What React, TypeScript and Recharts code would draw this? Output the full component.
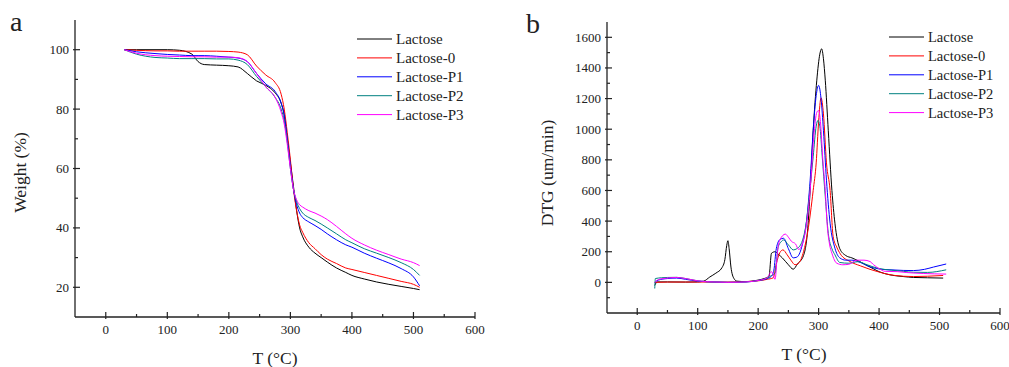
import { LineChart, Line, XAxis, YAxis, Legend } from "recharts";

const SERIF = '"Liberation Serif", "Times New Roman", serif';
const AXIS = "#222";

const seriesNames = ["Lactose", "Lactose-0", "Lactose-P1", "Lactose-P2", "Lactose-P3"];
const seriesColors = ["#000000", "#ff0000", "#0000ff", "#008080", "#ff00ff"];

// ---- a: TGA weight (%) vs T ----
const tgaTemps = [30, 50, 80, 100, 120, 140, 150, 160, 180, 200, 215, 230, 245, 260, 275, 285, 290, 295, 300, 305, 310, 315, 320, 330, 340, 350, 360, 375, 390, 400, 420, 440, 460, 480, 500, 510];
const tgaLactose = [100, 100, 100, 100, 99.8, 98.5, 96, 95, 94.8, 94.6, 94.2, 92, 89.5, 88, 85.5, 82, 78, 70, 62, 54, 46, 40, 37, 33.5, 31.5, 30, 28.5, 26.5, 25, 24, 22.8, 21.8, 21, 20.3, 19.6, 19.2];
const tgaLactose0 = [100, 99.8, 99.6, 99.6, 99.5, 99.5, 99.5, 99.5, 99.5, 99.4, 99.2, 98.3, 94.5, 91.5, 89, 85, 80, 72, 63, 53, 46, 41, 38.5, 35, 33, 31, 29.5, 28, 26.5, 26, 25, 24, 23, 22, 21, 20];
const tgaP1 = [100, 99.3, 98.7, 98.4, 98.2, 98, 98, 98, 97.8, 97.5, 97.2, 96, 92, 88.5, 86, 82, 78, 70, 61, 53, 48, 45, 43.5, 42, 40.8, 39.5, 38, 36, 34.3, 33.5, 31.5, 29.8, 28.2, 26.3, 23.5, 20.5];
const tgaP2 = [100, 98.5, 97.4, 97.2, 97, 97, 97, 97, 96.9, 96.9, 96.5, 95, 91, 87.5, 84, 80, 76, 69, 60, 53, 49, 46.5, 45, 43.5, 42.5, 41.3, 40, 38, 36, 35, 33, 31.5, 30, 28.3, 26, 24];
const tgaP3 = [100, 98.8, 98, 97.8, 97.7, 97.6, 97.6, 97.6, 97.5, 97.5, 97.3, 96, 92, 87.5, 84, 79, 75, 68, 60, 53, 49.5, 47.8, 47, 45.8, 45, 44, 42.8, 40.5, 38, 36.5, 34.3, 32.5, 31, 29.5, 28.3, 27.3];

// ---- b: DTG (um/min) vs T ----
const dtgLactoseT = [29, 33, 50, 80, 100, 110, 120, 130, 140, 145, 148, 150, 152, 155, 160, 165, 180, 200, 210, 218, 222, 228, 233, 240, 250, 258, 265, 275, 282, 286, 291, 297, 302, 305, 308, 311, 316, 322, 327, 335, 345, 355, 368, 380, 390, 400, 418, 440, 457, 480, 506];
const dtgLactose = [-20, 3, 3, 2, 3, 8, 35, 60, 95, 150, 240, 272, 220, 100, 25, 8, 5, 15, 25, 40, 190, 200, 185, 160, 115, 86, 120, 175, 350, 600, 990, 1320, 1490, 1525, 1460, 1320, 990, 600, 386, 220, 175, 160, 136, 110, 90, 70, 49, 38, 32, 30, 28];
const dtgLactose0T = [29, 50, 80, 100, 150, 200, 215, 225, 230, 236, 241, 248, 255, 261, 268, 275, 282, 291, 296, 300, 304, 308, 313, 319, 324, 330, 336, 352, 369, 385, 402, 424, 457, 480, 506];
const dtgLactose0 = [0, 2, 2, 2, 2, 10, 20, 30, 120, 195, 212, 180, 140, 115, 130, 200, 330, 600, 780, 1050, 1205, 1100, 780, 600, 300, 230, 185, 136, 108, 85, 65, 46, 38, 40, 45];
const dtgP1T = [29, 35, 50, 65, 80, 100, 130, 150, 180, 200, 215, 222, 226, 230, 236, 242, 250, 258, 264, 272, 280, 286, 291, 296, 300, 304, 308, 313, 319, 327, 335, 345, 355, 369, 380, 391, 405, 418, 440, 457, 475, 490, 511];
const dtgP1 = [0, 15, 25, 28, 20, 8, 2, 0, 3, 12, 25, 40, 80, 220, 280, 288, 220, 160, 165, 230, 400, 667, 990, 1220, 1286, 1200, 990, 667, 386, 223, 160, 145, 145, 130, 110, 95, 85, 82, 78, 77, 85, 100, 120];
const dtgP2T = [29, 30, 40, 50, 65, 80, 100, 130, 150, 180, 200, 215, 222, 228, 233, 238, 242, 250, 258, 264, 272, 280, 286, 291, 296, 299, 302, 306, 311, 316, 322, 327, 335, 350, 365, 380, 400, 420, 440, 457, 480, 511];
const dtgP2 = [-40, 25, 30, 32, 33, 25, 10, 2, 0, 3, 12, 28, 45, 60, 230, 265, 277, 245, 212, 220, 260, 400, 620, 820, 1020, 1058, 1020, 820, 560, 320, 220, 180, 130, 125, 135, 115, 90, 80, 72, 66, 65, 82];
const dtgP3T = [29, 35, 50, 65, 80, 100, 130, 150, 180, 200, 215, 222, 228, 232, 236, 245, 250, 255, 262, 267, 272, 280, 286, 292, 297, 300, 303, 307, 311, 314, 318, 322, 330, 340, 350, 363, 375, 385, 391, 400, 410, 430, 446, 473, 511];
const dtgP3 = [0, 18, 28, 32, 25, 10, 2, 0, 3, 12, 30, 70, 20, 200, 277, 315, 295, 268, 250, 215, 240, 380, 600, 950, 1110, 1123, 1050, 800, 600, 386, 250, 190, 125, 115, 118, 145, 145, 136, 115, 90, 72, 70, 64, 58, 54];

const tgaData = tgaTemps.map((t, i) => ({
  T: t,
  Lactose: tgaLactose[i],
  "Lactose-0": tgaLactose0[i],
  "Lactose-P1": tgaP1[i],
  "Lactose-P2": tgaP2[i],
  "Lactose-P3": tgaP3[i],
}));

const pairs = (ts: number[], vs: number[]) => ts.map((t, i) => ({ T: t, v: vs[i] }));
const dtgSeries = [
  pairs(dtgLactoseT, dtgLactose),
  pairs(dtgLactose0T, dtgLactose0),
  pairs(dtgP1T, dtgP1),
  pairs(dtgP2T, dtgP2),
  pairs(dtgP3T, dtgP3),
];

const range = (a: number, b: number, step: number) => {
  const out: number[] = [];
  for (let v = a; v <= b; v += step) out.push(v);
  return out;
};

// origin-style ticks: pointing inward, labels only on majors
const yTick = (major: number, skip: number[]) => (props: any) => {
  const { x, y, payload } = props;
  const v = payload.value;
  if (skip.includes(v)) return <g />;
  const isMajor = v % major === 0;
  return (
    <g>
      <line x1={x - (isMajor ? 2 : 0)} x2={x + (isMajor ? 5 : 3)} y1={y} y2={y} stroke={AXIS} strokeWidth={1.2} />
      {isMajor && (
        <text x={x - 6} y={y} dy={4.5} textAnchor="end" fontSize={13} fontFamily={SERIF} fill={AXIS}>
          {v}
        </text>
      )}
    </g>
  );
};

const xTick = (skip: number[]) => (props: any) => {
  const { x, y, payload } = props;
  const v = payload.value;
  if (skip.includes(v)) return <g />;
  const isMajor = v % 100 === 0;
  return (
    <g>
      <line x1={x} x2={x} y1={y + (isMajor ? 2 : 0)} y2={y - (isMajor ? 5 : 3)} stroke={AXIS} strokeWidth={1.2} />
      {isMajor && (
        <text x={x} y={y} dy={16.5} textAnchor="middle" fontSize={13} fontFamily={SERIF} fill={AXIS}>
          {v}
        </text>
      )}
    </g>
  );
};

const makeLegend = (left: number, top: number, fontSize: number) => (props: any) => {
  const items = props.payload || [];
  return (
    <svg width={130} height={100} style={{ position: "absolute", left, top, overflow: "visible" }}>
      {items.map((it: any, i: number) => (
        <g key={it.value}>
          <line x1={0} x2={35} y1={i * 18.9} y2={i * 18.9} stroke={it.color} strokeWidth={1} />
          <text x={39} y={i * 18.9} dy={5} fontSize={fontSize} fontFamily={SERIF} fill={AXIS}>
            {it.value}
          </text>
        </g>
      ))}
    </svg>
  );
};

const axisLine = { stroke: AXIS, strokeWidth: 1.3 };

const App = () => {
  return (
    <div style={{ position: "absolute", left: 0, top: 0, width: 1009, height: 367, background: "#fff" }}>
      {/* panel a: TGA */}
      <div style={{ position: "absolute", left: 0, top: 0 }}>
        <LineChart width={500} height={367} data={tgaData} margin={{ top: 20, right: 25, bottom: 20, left: 15 }}>
          <XAxis
            dataKey="T"
            type="number"
            domain={[-50, 600]}
            ticks={range(-50, 600, 50)}
            interval={0}
            height={30}
            axisLine={axisLine}
            tickLine={false}
            tickSize={0}
            tickMargin={0}
            tick={xTick([-50])}
          />
          <YAxis
            type="number"
            domain={[10, 110]}
            ticks={range(10, 110, 10)}
            interval={0}
            width={60}
            axisLine={axisLine}
            tickLine={false}
            tickSize={0}
            tickMargin={0}
            tick={yTick(20, [10, 110])}
          />
          {seriesNames.map((name, i) => (
            <Line
              key={name}
              type="monotone"
              dataKey={name}
              name={name}
              stroke={seriesColors[i]}
              strokeWidth={1}
              dot={false}
              isAnimationActive={false}
            />
          ))}
          <Legend
            layout="horizontal"
            align="center"
            verticalAlign="middle"
            wrapperStyle={{ left: 0, top: 0, width: 0, height: 0 }}
            content={makeLegend(357, 39, 15)}
          />
        </LineChart>
      </div>

      {/* panel b: DTG */}
      <div style={{ position: "absolute", left: 500, top: 0 }}>
        <LineChart width={509} height={367} margin={{ top: 22, right: 9, bottom: 24, left: 47 }}>
          <XAxis
            dataKey="T"
            type="number"
            domain={[-50, 600]}
            ticks={range(-50, 600, 50)}
            interval={0}
            height={30}
            axisLine={axisLine}
            tickLine={false}
            tickSize={0}
            tickMargin={0}
            tick={xTick([-50])}
          />
          <YAxis
            type="number"
            domain={[-200, 1700]}
            ticks={range(-200, 1700, 100)}
            interval={0}
            width={60}
            axisLine={axisLine}
            tickLine={false}
            tickSize={0}
            tickMargin={0}
            tick={yTick(200, [-200, 1700])}
          />
          {seriesNames.map((name, i) => (
            <Line
              key={name}
              data={dtgSeries[i]}
              type="monotone"
              dataKey="v"
              name={name}
              stroke={seriesColors[i]}
              strokeWidth={1}
              dot={false}
              isAnimationActive={false}
            />
          ))}
          <Legend
            layout="horizontal"
            align="center"
            verticalAlign="middle"
            wrapperStyle={{ left: 0, top: 0, width: 0, height: 0 }}
            content={makeLegend(389, 37, 14.5)}
          />
        </LineChart>
      </div>

      {/* panel letters and axis titles */}
      <svg width={1009} height={367} style={{ position: "absolute", left: 0, top: 0, pointerEvents: "none" }}>
        <g fontFamily={SERIF} fill={AXIS}>
          <text x={10} y={31} fontSize={28}>a</text>
          <text x={526} y={33} fontSize={28}>b</text>
          <text x={26} y={172.5} fontSize={17.5} textAnchor="middle" transform="rotate(-90 26 172.5)">
            Weight (%)
          </text>
          <text x={553} y={173} fontSize={17.5} textAnchor="middle" transform="rotate(-90 553 173)">
            DTG (um/min)
          </text>
          <text x={275} y={364} fontSize={17.5} textAnchor="middle">T (°C)</text>
          <text x={804} y={360} fontSize={17.5} textAnchor="middle">T (°C)</text>
        </g>
      </svg>
    </div>
  );
};

export default App;
